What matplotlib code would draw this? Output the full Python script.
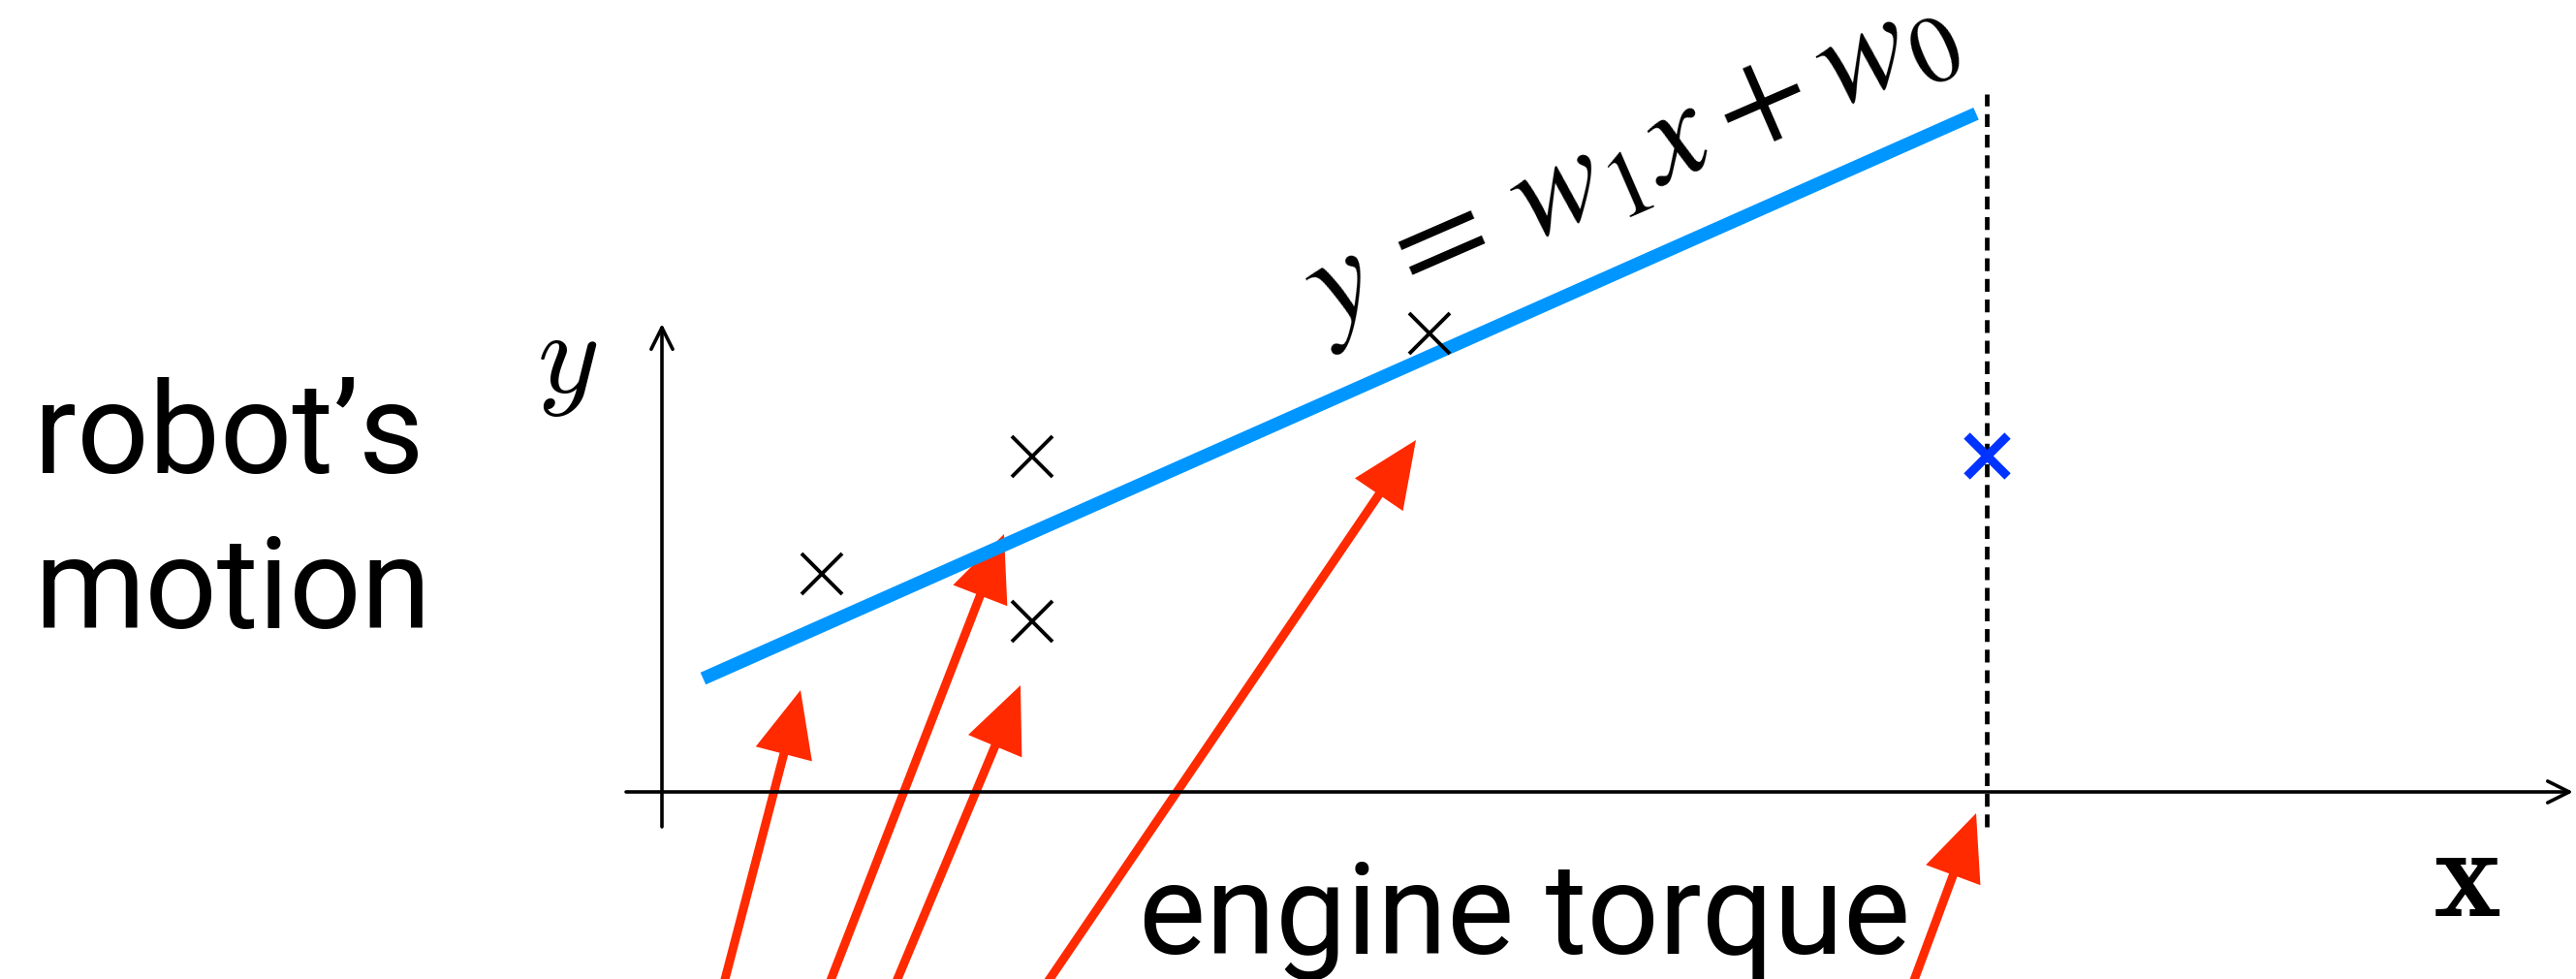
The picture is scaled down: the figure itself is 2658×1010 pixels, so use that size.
import numpy as np
import matplotlib
matplotlib.use("Agg")
import matplotlib.pyplot as plt

# fitted line y = w1 * x + w0 and the range it is drawn over
w1, w0 = 0.4437, 0.981
line_x = [0.425, 13.56]

# observed samples (torque, motion)
pts_x = [1.65, 3.82, 3.82, 7.92]
pts_y = [2.25, 3.46, 1.76, 4.73]

# query point on the dotted line
query_x = 13.67
query_y = 3.47

# red arrows: tails (off the bottom) and tips
arrow_tail_x = [0.62, 1.70, 2.38, 3.92, 12.88]
arrow_tail_y = [-2.05, -2.05, -2.05, -2.05, -2.05]
arrow_tip_x = [1.43, 3.53, 3.70, 7.78, 13.56]
arrow_tip_y = [1.05, 2.66, 1.10, 3.63, -0.22]

fig = plt.figure(figsize=(26.58, 10.10), dpi=100)
ax = fig.add_axes([0, 0, 1, 1])
ax.set_xlim(-6.83, 19.75)
ax.set_ylim(-1.93, 8.17)
ax.axis("off")

# coordinate axes with open arrow heads
ax.annotate("", xy=(0, 4.83), xytext=(0, -0.36),
            arrowprops=dict(arrowstyle="->", lw=2.6, color="black",
                            mutation_scale=40, shrinkA=0, shrinkB=0))
ax.annotate("", xy=(19.72, 0), xytext=(-0.37, 0),
            arrowprops=dict(arrowstyle="->", lw=2.6, color="black",
                            mutation_scale=40, shrinkA=0, shrinkB=0))

# dotted guide through the query point
ax.plot([query_x, query_x], [-0.36, 7.2], color="black", lw=3.4,
        dashes=(2.8, 1.7))

# regression line
lx = np.array(line_x)
ax.plot(lx, w1 * lx + w0, color="#0096FF", lw=9.8, solid_capstyle="butt")

ax.plot(pts_x, pts_y, "x", color="black", ms=30, mew=2.8)
ax.plot([query_x], [query_y], "x", color="#0033FF", ms=30, mew=6.5)

for tx, ty, hx, hy in zip(arrow_tail_x, arrow_tail_y, arrow_tip_x, arrow_tip_y):
    ax.arrow(tx, ty, hx - tx, hy - ty, width=0.09, head_width=0.6,
             head_length=0.68, length_includes_head=True,
             color="#FF2A00", lw=0)

# labels
label_font = dict(fontsize=94, family="Roboto", fontweight="normal",
                  ha="left", va="baseline")
ax.text(-6.48, 3.29, "robot\u2019s", **label_font)
ax.text(-6.48, 1.69, "motion", **label_font)
ax.text(4.92, -1.67, "engine torque", **label_font)

ax.text(-0.98, 4.44, r"$y$", fontsize=88, math_fontfamily="cm",
        ha="center", va="center")
ax.text(18.62, -0.91, r"$\mathbf{x}$", fontsize=96, math_fontfamily="cm",
        ha="center", va="center")
ax.text(9.97, 6.52, r"$y\,=\,w_1 x + w_0$", fontsize=100,
        math_fontfamily="stix", rotation=23.5, rotation_mode="anchor",
        ha="center", va="center")

fig.savefig("out.png", dpi=100)
